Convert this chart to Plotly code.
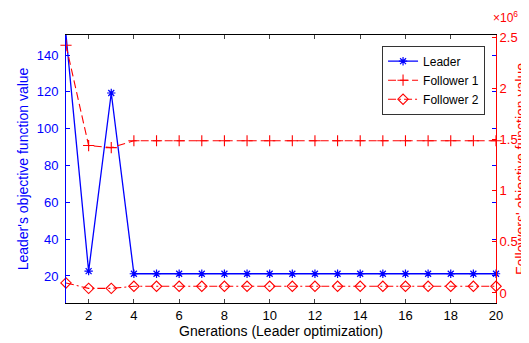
import plotly.graph_objects as go

generations = list(range(1, 21))
leader = [151, 22.6, 119.4] + [21.2] * 17
follower1 = [2.42e6, 1.44e6, 1.42e6] + [1.487e6] * 17
follower2 = [0.098e6, 0.045e6, 0.045e6] + [0.065e6] * 17

x_ticks = [2, 4, 6, 8, 10, 12, 14, 16, 18, 20]
left_ticks = [20, 40, 60, 80, 100, 120, 140]
right_ticks = [0, 0.5e6, 1e6, 1.5e6, 2e6, 2.5e6]
right_tick_text = ["0", "0.5", "1", "1.5", "2", "2.5"]

BLUE = "#0000ff"
RED = "#ff0000"
FONT = "Liberation Sans, Arial, sans-serif"

fig = go.Figure()
fig.add_trace(go.Scatter(
    x=generations, y=leader, name="Leader", mode="lines+markers",
    line=dict(color=BLUE, width=1.3),
    marker=dict(symbol="asterisk-open", size=7, color=BLUE, line=dict(color=BLUE, width=1.2)),
    yaxis="y", cliponaxis=False))
fig.add_trace(go.Scatter(
    x=generations, y=follower1, name="Follower 1", mode="lines+markers",
    line=dict(color=RED, width=1.1, dash="8px,4px"),
    marker=dict(symbol="cross-thin-open", size=8, color=RED, line=dict(color=RED, width=1.1)),
    yaxis="y2", cliponaxis=False))
fig.add_trace(go.Scatter(
    x=generations, y=follower2, name="Follower 2", mode="lines+markers",
    line=dict(color=RED, width=1.1, dash="8px,3px,2px,3px"),
    marker=dict(symbol="diamond-open", size=8, color=RED, line=dict(color=RED, width=1.1)),
    yaxis="y2", cliponaxis=False))
# empty helper trace so the title-only right axis is drawn
fig.add_trace(go.Scatter(x=[None], y=[None], yaxis="y3", showlegend=False,
                         hoverinfo="skip", mode="lines"))

fig.update_layout(
    width=529, height=343,
    margin=dict(l=58, r=41, t=27, b=48),
    paper_bgcolor="white", plot_bgcolor="white",
    font=dict(family=FONT, size=12, color="black"),
    showlegend=True,
    legend=dict(x=0.735, y=0.96, xanchor="left", yanchor="top",
                bgcolor="white", bordercolor="#333333", borderwidth=1,
                font=dict(family=FONT, size=12, color="black"),
                tracegroupgap=0, itemwidth=30),
    xaxis=dict(range=[1, 20], tickvals=x_ticks, ticks="inside", ticklen=4,
               showline=True, linecolor="black", linewidth=1, mirror="ticks",
               showgrid=False, zeroline=False,
               tickfont=dict(size=13, color="black"),
               title=dict(text="Gnerations (Leader optimization)", standoff=4,
                          font=dict(size=14, color="black"))),
    yaxis=dict(range=[5.3, 150.9], tickvals=left_ticks, ticks="inside", ticklen=4,
               showline=True, linecolor=BLUE, linewidth=1, mirror="ticks",
               tickcolor=BLUE, showgrid=False, zeroline=False, ticklabelstandoff=4,
               tickfont=dict(size=13, color=BLUE),
               title=dict(text="Leader's objective function value", standoff=4,
                          font=dict(size=14, color=BLUE))),
    yaxis2=dict(range=[-0.098e6, 2.52e6], tickvals=right_ticks, ticktext=right_tick_text,
                overlaying="y", side="right", ticks="inside", ticklen=4,
                showline=True, linecolor=RED, linewidth=1, tickcolor=RED,
                showgrid=False, zeroline=False,
                tickfont=dict(size=13, color=RED)),
    yaxis3=dict(range=[0, 1], overlaying="y", side="right", anchor="free", position=1.0,
                showticklabels=False, ticks="", showline=False, showgrid=False,
                zeroline=False,
                title=dict(text="Followers' objective function value", standoff=20,
                           font=dict(size=14, color=RED))),
    annotations=[
        dict(text="×10<sup>6</sup>", xref="paper", yref="paper",
             x=1.0, y=1.0, xanchor="left", yanchor="bottom", xshift=-5, yshift=8,
             showarrow=False, font=dict(size=12, color=RED)),
    ],
)

fig.write_html("out.html")
